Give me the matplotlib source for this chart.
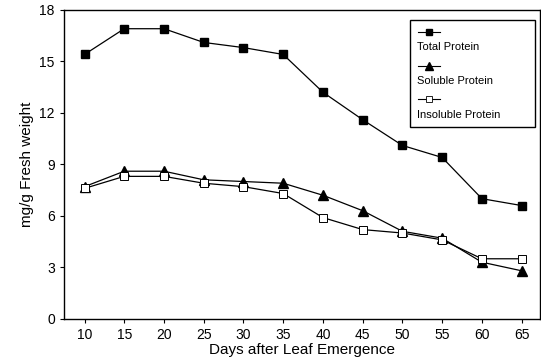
import matplotlib.pyplot as plt
from matplotlib.patches import Rectangle
from matplotlib.lines import Line2D

plt.rcParams['font.family'] = ['Liberation Sans', 'DejaVu Sans']

days = [10, 15, 20, 25, 30, 35, 40, 45, 50, 55, 60, 65]
total = [15.4, 16.9, 16.9, 16.1, 15.8, 15.4, 13.2, 11.6, 10.1, 9.4, 7.0, 6.6]
soluble = [7.7, 8.6, 8.6, 8.1, 8.0, 7.9, 7.2, 6.3, 5.1, 4.7, 3.3, 2.8]
insoluble = [7.6, 8.3, 8.3, 7.9, 7.7, 7.3, 5.9, 5.2, 5.0, 4.6, 3.5, 3.5]
labels = ['Total Protein', 'Soluble Protein', 'Insoluble Protein']

fig = plt.figure(figsize=(5.41, 3.64), dpi=100)
ax = fig.add_axes([0.118, 0.124, 0.880, 0.849])

ax.plot(days, total, color='black', lw=0.9, marker='s', ms=6, mfc='black', mec='black')
ax.plot(days, soluble, color='black', lw=0.9, marker='^', ms=7, mfc='black', mec='black')
ax.plot(days, insoluble, color='black', lw=0.9, marker='s', ms=6, mfc='white', mec='black', mew=0.7)

ax.set_xlim(7.4, 67.3)
ax.set_ylim(0, 18)
ax.set_xticks(days)
ax.set_yticks([0, 3, 6, 9, 12, 15, 18])
ax.tick_params(direction='out', length=3, width=0.8, labelsize=10)
for s in ax.spines.values():
    s.set_linewidth(1.0)
ax.set_xlabel('Days after Leaf Emergence', fontsize=11, labelpad=1)
ax.set_ylabel('mg/g Fresh weight', fontsize=11, labelpad=4)

# legend: marker sample on its own row above each label
ax.add_patch(Rectangle((0.727, 0.621), 0.263, 0.347, transform=ax.transAxes,
                       fill=False, lw=1.0, ec='black'))
styles = [dict(marker='s', mfc='black', ms=5),
          dict(marker='^', mfc='black', ms=6),
          dict(marker='s', mfc='white', ms=5, mew=0.6)]
line_y = [0.929, 0.819, 0.712]
text_y = [0.880, 0.770, 0.660]
for lab, st, ly, ty in zip(labels, styles, line_y, text_y):
    ax.add_line(Line2D([0.744, 0.767, 0.790], [ly, ly, ly], transform=ax.transAxes,
                       color='black', lw=0.8, mec='black', markevery=[1], **st))
    ax.text(0.741, ty, lab, transform=ax.transAxes,
            fontsize=8, va='center', ha='left')

fig.savefig('out.png', dpi=100)
